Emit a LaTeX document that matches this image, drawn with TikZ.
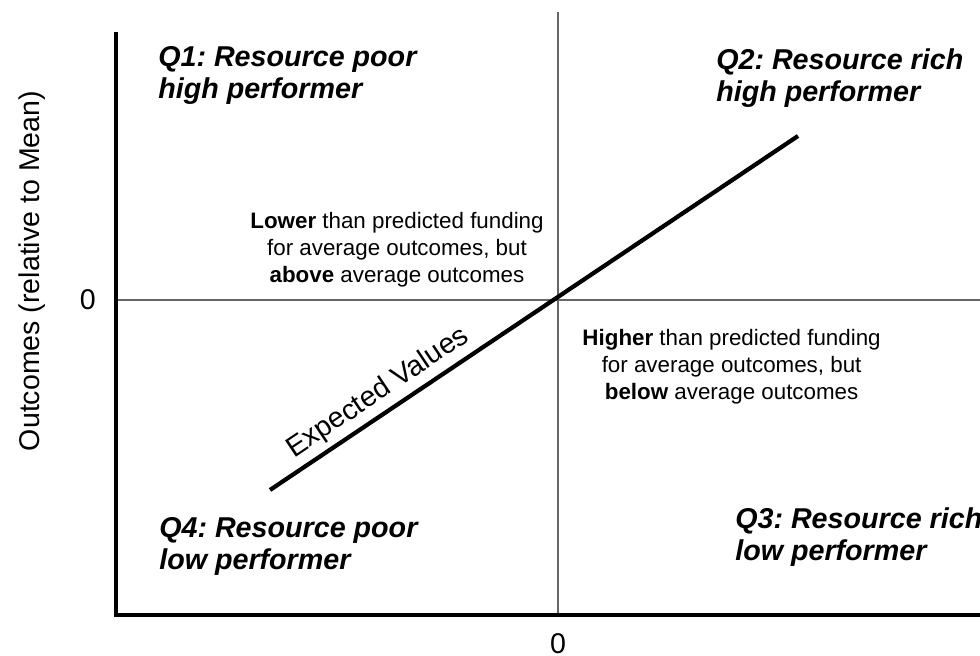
\documentclass[tikz,border=0pt]{standalone}
\usepackage{fontspec}
\setmainfont{Liberation Sans}
\frenchspacing

\begin{document}
\begin{tikzpicture}[every node/.style={inner sep=0pt},
	big/.style={font=\fontsize{20.3}{22.8}\selectfont},
	quad/.style={font=\fontsize{20.4}{22.8}\selectfont\bfseries\itshape, align=left, anchor=north west},
	note/.style={font=\fontsize{15.9}{19.2}\selectfont, align=center},
	axis/.style={line width=3pt},
	zeroline/.style={draw=black!60, line width=1pt}]
	\useasboundingbox (0,0) rectangle (24.5,16.4);
	% axes and the two zero lines
	\coordinate (ytop) at (2.9,15.6);
	\coordinate (orig) at (2.9,1.025);
	\coordinate (xend) at (24.5,1.025);
	\coordinate (zl) at (2.9,8.9);
	\coordinate (zr) at (24.5,8.9);
	\coordinate (zt) at (13.95,16.1);
	\coordinate (zb) at (13.95,1.025);
	\draw[zeroline] (zl) -- (zr);
	\draw[zeroline] (zt) -- (zb);
	\draw[axis] (ytop) -- (orig) -- (xend);
	\node[big, anchor=east] (y0) at (2.4,8.9) {0};
	\node[big] (x0) at (13.95,0.32) {0};
	\node[big, rotate=90] (ylab) at (0.8,9.625) {Outcomes (relative to Mean)};
	% expected values
	\coordinate (ev0) at (6.75,4.15);
	\coordinate (ev1) at (19.95,13.0);
	\draw[line width=3pt] (ev0) -- node[big, pos=0.226, sloped, above, inner sep=3.5pt] (evlab) {Expected Values} (ev1);
	% quadrant titles
	\foreach \n/\x/\y/\t in {1/3.95/15.25/{Q1: Resource poor\\high performer}, 2/17.9/15.2/{Q2: Resource rich\\high performer}, 3/18.375/3.725/{Q3: Resource rich\\low performer}, 4/3.975/3.475/{Q4: Resource poor\\low performer}}
		\node[quad] (q\n) at (\x,\y) {\t};
	\node[note] (lower) at (9.925,10.15) {\textbf{Lower} than predicted funding\\for average outcomes, but\\\textbf{above} average outcomes};
	\node[note] (higher) at (18.29,7.225) {\textbf{Higher} than predicted funding\\for average outcomes, but\\\textbf{below} average outcomes};
\end{tikzpicture}
\end{document}
